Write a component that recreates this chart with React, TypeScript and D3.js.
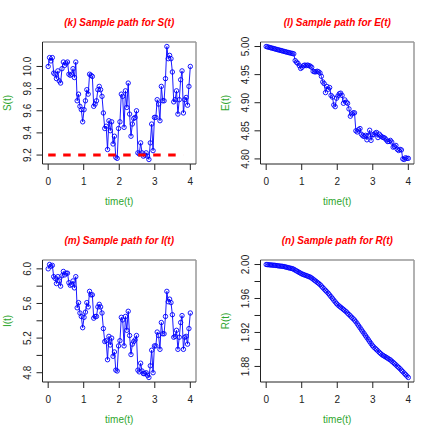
import * as d3 from "d3";

// sample paths (104 points each, t from 0 to 4)
const S_VALUES = [
  10.0, 10.08, 10.05, 10.08, 9.94, 9.93, 9.89, 9.96, 9.87, 9.85,
  9.98, 10.04, 10.01, 10.03, 10.04, 9.93, 9.92, 9.93, 9.98, 9.9,
  10.04, 9.69, 9.75, 9.64, 9.61, 9.5, 9.61, 9.69, 9.79, 9.75,
  9.93, 9.92, 9.91, 9.64, 9.66, 9.69, 9.79, 9.82, 9.79, 9.73,
  9.58, 9.44, 9.46, 9.25, 9.51, 9.42, 9.5, 9.3, 9.37, 9.18,
  9.17, 9.44, 9.5, 9.75, 9.73, 9.45, 9.78, 9.63, 9.85, 9.57,
  9.37, 9.48, 9.53, 9.54, 9.6, 9.22, 9.21, 9.31, 9.22, 9.19,
  9.2, 9.22, 9.19, 9.16, 9.31, 9.48, 9.24, 9.54, 9.54, 9.7,
  9.66, 9.51, 9.82, 9.69, 9.69, 9.89, 10.18, 10.07, 10.1, 10.07,
  9.95, 9.68, 9.7, 9.78, 9.57, 9.7, 9.88, 9.96, 9.58, 9.7,
  9.72, 9.65, 9.82, 10.0,
];

const E_VALUES = [
  5.0, 4.9993, 4.9987, 4.998, 4.9973, 4.9967, 4.996, 4.9953, 4.9946, 4.994,
  4.9933, 4.9927, 4.992, 4.9913, 4.9907, 4.99, 4.9894, 4.9888, 4.9882, 4.9876,
  4.987, 4.975, 4.972, 4.97, 4.966, 4.961, 4.963, 4.966, 4.967, 4.966,
  4.967, 4.966, 4.965, 4.963, 4.956, 4.955, 4.955, 4.956, 4.955, 4.953,
  4.947, 4.937, 4.934, 4.918, 4.929, 4.924, 4.927, 4.913, 4.91, 4.896,
  4.893, 4.908, 4.912, 4.916, 4.917, 4.913, 4.899, 4.905, 4.901, 4.899,
  4.889, 4.876, 4.88, 4.882, 4.882, 4.85, 4.848, 4.852, 4.854, 4.844,
  4.841, 4.84, 4.842, 4.834, 4.842, 4.851, 4.833, 4.843, 4.843, 4.846,
  4.847, 4.838, 4.844, 4.841, 4.839, 4.838, 4.837, 4.834, 4.831, 4.831,
  4.833, 4.83, 4.821, 4.822, 4.824, 4.817, 4.815, 4.817, 4.816, 4.8,
  4.799, 4.802, 4.801, 4.801,
];

const I_VALUES = [
  6.0, 6.05, 6.03, 6.04, 5.91, 5.89, 5.83, 5.91, 5.86, 5.8,
  5.92, 5.97, 5.93, 5.95, 5.95, 5.84, 5.81, 5.82, 5.86, 5.78,
  5.91, 5.55, 5.61, 5.49, 5.45, 5.32, 5.44, 5.5, 5.61, 5.56,
  5.74, 5.7, 5.7, 5.43, 5.45, 5.45, 5.56, 5.59, 5.56, 5.49,
  5.31, 5.16, 5.17, 4.95, 5.22, 5.12, 5.2, 4.99, 5.04, 4.83,
  4.82, 5.11, 5.17, 5.44, 5.41, 5.11, 5.45, 5.29, 5.51, 5.23,
  5.01, 5.13, 5.16, 5.18, 5.23, 4.83, 4.81, 4.91, 4.82, 4.79,
  4.79, 4.8, 4.77, 4.745, 4.88, 5.06, 4.8, 5.11, 5.11, 5.27,
  5.23, 5.07, 5.38, 5.25, 5.25, 5.45, 5.74, 5.62, 5.65, 5.61,
  5.47, 5.21, 5.22, 5.29, 5.07, 5.21, 5.38, 5.46, 5.07, 5.21,
  5.22, 5.13, 5.31, 5.49,
];

const R_VALUES = [
  2.0, 1.99985, 1.9997, 1.9995, 1.9994, 1.9992, 1.9991, 1.9989, 1.9987, 1.9984,
  1.9982, 1.998, 1.9978, 1.9976, 1.9971, 1.9967, 1.9963, 1.9959, 1.9955, 1.9951,
  1.9944, 1.9934, 1.9925, 1.9916, 1.9906, 1.9897, 1.9888, 1.9882, 1.9876, 1.987,
  1.9864, 1.9857, 1.9851, 1.984, 1.9828, 1.9815, 1.9803, 1.979, 1.9778, 1.9764,
  1.9747, 1.9729, 1.9712, 1.9695, 1.9678, 1.9661, 1.9641, 1.9621, 1.9601, 1.958,
  1.956, 1.954, 1.9523, 1.951, 1.9497, 1.9484, 1.9471, 1.9457, 1.9444, 1.9427,
  1.9411, 1.9395, 1.9379, 1.9362, 1.9346, 1.9326, 1.9302, 1.9279, 1.9256, 1.9232,
  1.9209, 1.9186, 1.9162, 1.9139, 1.9116, 1.9092, 1.9069, 1.9046, 1.9028, 1.9013,
  1.8997, 1.8982, 1.8966, 1.8951, 1.8937, 1.8927, 1.8917, 1.8907, 1.8897, 1.8886,
  1.8877, 1.8862, 1.8848, 1.8833, 1.8818, 1.8803, 1.8788, 1.8773, 1.8755, 1.8738,
  1.8721, 1.8704, 1.8687, 1.867,
];

const T_END = 4;
const X_TICKS = [0, 1, 2, 3, 4];

const S_TICKS = [9.2, 9.4, 9.6, 9.8, 10.0];
const E_TICKS = [4.8, 4.85, 4.9, 4.95, 5.0];
const I_TICKS = [4.8, 5.0, 5.2, 5.4, 5.6, 5.8, 6.0];
const I_LABELED = [4.8, 5.2, 5.6, 6.0];
const R_TICKS = [1.88, 1.9, 1.92, 1.94, 1.96, 1.98, 2.0];
const R_LABELED = [1.88, 1.92, 1.96, 2.0];

const S_THRESHOLD = 9.2;
const S_THRESHOLD_END = 3.8;

const PW = 218;
const PH = 218;
const M = { left: 42.5, right: 22, top: 42, bottom: 54 };
const FONT = "'Liberation Sans', Arial, Helvetica, sans-serif";

type PanelProps = {
  ox: number;
  oy: number;
  title: string;
  ylab: string;
  values: number[];
  ticks: number[];
  labeled?: number[];
  digits: number;
  threshold?: number;
};

function Panel({ ox, oy, title, ylab, values, ticks, labeled, digits, threshold }: PanelProps) {
  const step = T_END / (values.length - 1);
  const pts = values.map((v, i) => [i * step, v] as [number, number]);

  // R style 4% padding on both axes
  const x = d3.scaleLinear().domain([-0.04 * T_END, T_END * 1.04]).range([M.left, PW - M.right]);
  const [lo, hi] = d3.extent(values) as [number, number];
  const pad = (hi - lo) * 0.04;
  const y = d3.scaleLinear().domain([lo - pad, hi + pad]).range([PH - M.bottom, M.top]);

  const line = d3.line<[number, number]>().x(d => x(d[0])).y(d => y(d[1]));
  const fmt = d3.format("." + digits + "f");
  const shown = labeled || ticks;
  const bottom = PH - M.bottom;
  const cx = (M.left + PW - M.right) / 2;

  return (
    <g transform={`translate(${ox},${oy})`}>
      <text x={cx} y={25.5} textAnchor="middle" fill="#ff0000" fontSize={10}
        fontWeight="bold" fontStyle="italic" fontFamily={FONT}>{title}</text>

      <path d={line(pts) || ""} fill="none" stroke="#0000ff" strokeWidth={0.9} />
      {pts.map((d, i) => (
        <circle key={i} cx={x(d[0])} cy={y(d[1])} r={2.2} fill="none" stroke="#0000ff" strokeWidth={0.9} />
      ))}

      {threshold !== undefined && (
        <line x1={x(0)} x2={x(S_THRESHOLD_END)} y1={y(threshold)} y2={y(threshold)}
          stroke="#ff0000" strokeWidth={3} strokeDasharray="7.5,7.5" />
      )}

      {/* box */}
      <line x1={M.left} x2={PW - M.right} y1={M.top} y2={M.top} stroke="#999" strokeWidth={1.5} />
      <line x1={PW - M.right} x2={PW - M.right} y1={M.top} y2={bottom} stroke="#999" strokeWidth={1.5} />
      <line x1={M.left} x2={M.left} y1={M.top} y2={bottom} stroke="#222" strokeWidth={1} />
      <line x1={M.left} x2={PW - M.right} y1={bottom} y2={bottom} stroke="#222" strokeWidth={1} />

      {/* x axis */}
      {X_TICKS.map(t => (
        <g key={t}>
          <line x1={x(t)} x2={x(t)} y1={bottom} y2={bottom + 6} stroke="#222" />
          <text x={x(t)} y={184.5} textAnchor="middle" fontSize={10} fill="#222" fontFamily={FONT}>{t}</text>
        </g>
      ))}

      {/* y axis */}
      {ticks.map(t => (
        <g key={t}>
          <line x1={M.left - 6} x2={M.left} y1={y(t)} y2={y(t)} stroke="#222" />
          {shown.some(s => Math.abs(s - t) < 1e-9) && (
            <text transform={`translate(30.5,${y(t)}) rotate(-90)`} textAnchor="middle"
              fontSize={10} fill="#222" fontFamily={FONT}>{fmt(t)}</text>
          )}
        </g>
      ))}

      <text x={cx} y={205} textAnchor="middle" fontSize={10} fill="#2ea62e" fontFamily={FONT}>time(t)</text>
      <text transform={`translate(10.5,${(M.top + bottom) / 2}) rotate(-90)`} textAnchor="middle"
        fontSize={10} fill="#2ea62e" fontFamily={FONT}>{ylab}</text>
    </g>
  );
}

export default function App() {
  return (
    <svg width={436} height={436} style={{ position: "absolute", left: 0, top: 0, background: "#fff" }}>
      <rect width={436} height={436} fill="#fff" />
      <Panel ox={0} oy={0} title="(k) Sample path for S(t)" ylab="S(t)" values={S_VALUES}
        ticks={S_TICKS} digits={1} threshold={S_THRESHOLD} />
      <Panel ox={218} oy={0} title="(l) Sample path for E(t)" ylab="E(t)" values={E_VALUES}
        ticks={E_TICKS} digits={2} />
      <Panel ox={0} oy={218} title="(m) Sample path for I(t)" ylab="I(t)" values={I_VALUES}
        ticks={I_TICKS} labeled={I_LABELED} digits={1} />
      <Panel ox={218} oy={218} title="(n) Sample path for R(t)" ylab="R(t)" values={R_VALUES}
        ticks={R_TICKS} labeled={R_LABELED} digits={2} />
    </svg>
  );
}
